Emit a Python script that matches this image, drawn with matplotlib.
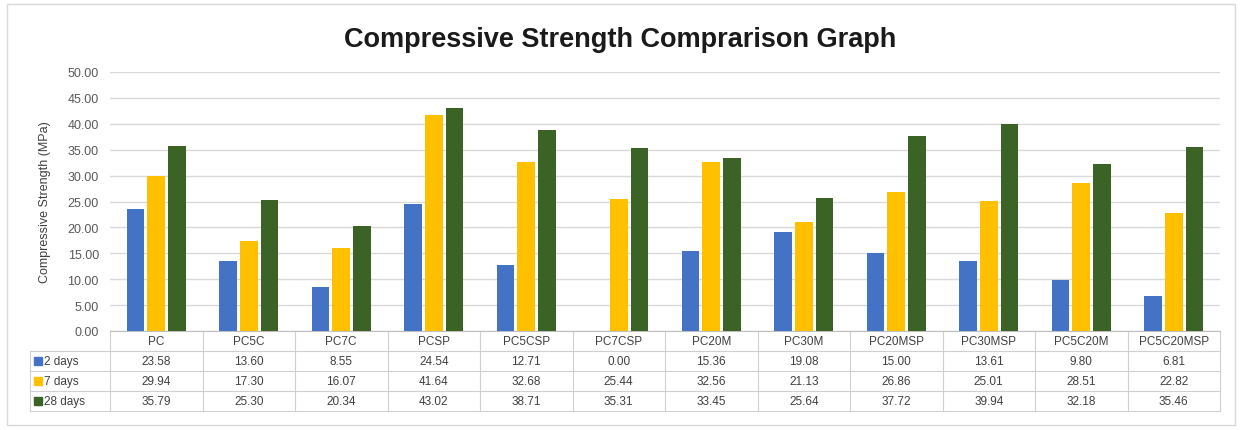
import matplotlib
matplotlib.use('Agg')
import matplotlib.pyplot as plt
import numpy as np
from matplotlib.patches import Rectangle

plt.rcParams['font.family'] = ['Liberation Sans', 'DejaVu Sans']

categories = ['PC', 'PC5C', 'PC7C', 'PCSP', 'PC5CSP', 'PC7CSP', 'PC20M',
              'PC30M', 'PC20MSP', 'PC30MSP', 'PC5C20M', 'PC5C20MSP']
series_names = ['2 days', '7 days', '28 days']
days2 = [23.58, 13.60, 8.55, 24.54, 12.71, 0.00, 15.36, 19.08, 15.00, 13.61, 9.80, 6.81]
days7 = [29.94, 17.30, 16.07, 41.64, 32.68, 25.44, 32.56, 21.13, 26.86, 25.01, 28.51, 22.82]
days28 = [35.79, 25.30, 20.34, 43.02, 38.71, 35.31, 33.45, 25.64, 37.72, 39.94, 32.18, 35.46]
colors = ['#4472C4', '#FFC000', '#3B6326']

W, H = 1241, 431
fig = plt.figure(figsize=(W / 100, H / 100), dpi=100)
ax = fig.add_axes([110 / W, 1 - 332 / H, 1110 / W, 259 / H])

x = np.arange(len(categories))
bw = 0.19
step = 0.225
for k, vals in enumerate([days2, days7, days28]):
    ax.bar(x + (k - 1) * step, vals, bw, color=colors[k], zorder=3)

ax.set_xlim(-0.5, len(categories) - 0.5)
ax.set_ylim(0, 50)
ax.set_yticks(np.arange(0, 50.1, 5))
ax.set_yticklabels(['%.2f' % v for v in np.arange(0, 50.1, 5)], fontsize=9, color='#595959')
ax.tick_params(axis='y', length=0, pad=8)
ax.set_xticks([])
ax.grid(axis='y', color='#D9D9D9', linewidth=1, zorder=0)
for s in ['top', 'right', 'left']:
    ax.spines[s].set_visible(False)
ax.spines['bottom'].set_color('#BFBFBF')
ax.set_ylabel('Compressive Strength (MPa)', fontsize=9, color='#404040', labelpad=12)

fig.text(0.5, 1 - 40 / H, 'Compressive Strength Comprarison Graph', ha='center', va='center',
         fontsize=19.5, fontweight='bold', color='#1a1a1a')

# data table below the plot
rowh = 20 / 259
lc = '#D0D0D0'
tc = '#404040'
n = len(categories)
colw = 1110 / n
xl = -0.5 - 80 / colw   # left edge of label column in data units
xt = ax.get_xaxis_transform()
kw = dict(clip_on=False, color=lc, linewidth=0.8, transform=xt)
for r in range(1, 5):
    y = -r * rowh
    ax.plot([xl, n - 0.5], [y, y], **kw)
for i in range(n + 1):
    ax.plot([i - 0.5, i - 0.5], [0, -4 * rowh], **kw)
ax.plot([xl, xl], [-rowh, -4 * rowh], **kw)

for i, c in enumerate(categories):
    ax.text(i, -0.5 * rowh, c, ha='center', va='center', fontsize=8.5, color=tc, transform=xt)
for r, vals in enumerate([days2, days7, days28]):
    y = -(r + 1.5) * rowh
    for i, v in enumerate(vals):
        ax.text(i, y, '%.2f' % v, ha='center', va='center', fontsize=8.5, color=tc, transform=xt)
    ax.plot([xl + 8 / colw], [y], marker='s', markersize=5.5, color=colors[r],
            clip_on=False, transform=xt)
    ax.text(xl + 14 / colw, y, series_names[r], ha='left', va='center', fontsize=8.5,
            color=tc, transform=xt)

fig.patches.append(Rectangle((7 / W, 1 - 426 / H), 1228 / W, 421 / H, fill=False,
                             edgecolor='#D9D9D9', linewidth=1, transform=fig.transFigure))

fig.savefig('out.png', dpi=100)
